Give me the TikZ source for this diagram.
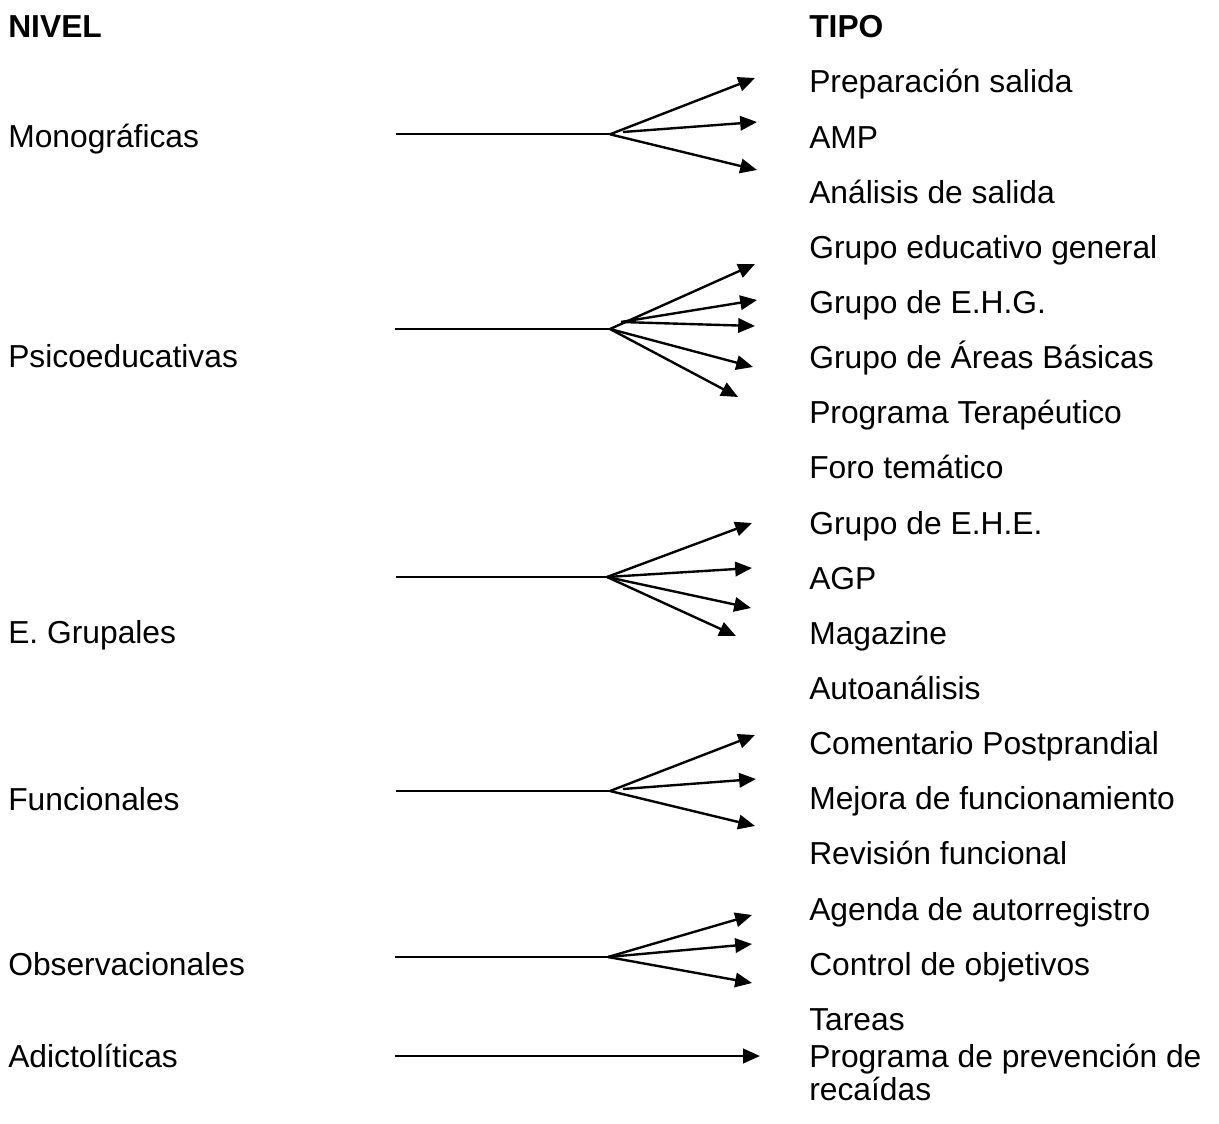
\documentclass[tikz,border=0pt]{standalone}
\usepackage{fontspec}
\setmainfont{Liberation Sans}
\usetikzlibrary{arrows.meta}

\begin{document}
\begin{tikzpicture}[
  x=0.025cm, y=-0.025cm,
  every node/.style={font=\fontsize{22.6}{27}\selectfont, inner sep=0pt, anchor=base west},
  link/.style={draw, line width=1.7pt},
  branch/.style={link, -{Triangle[length=0.42cm,width=0.36cm]}}
]
\useasboundingbox (0,0) rectangle (1219,1124);

% left column
\node[font=\fontsize{22.6}{27}\selectfont\bfseries] (nivel) at (8,37.7) {NIVEL};
\node (mono)  at (8,147.7) {Monográficas};
\node (psico) at (8,367.7) {Psicoeducativas};
\node (grup)  at (8,643.3) {E. Grupales};
\node (func)  at (8,810.7) {Funcionales};
\node (obs)   at (8,975.7) {Observacionales};
\node (adic)  at (8,1067)  {Adictolíticas};

% right column
\node[font=\fontsize{22.6}{27}\selectfont\bfseries] (tipo) at (809,37.7) {TIPO};
\foreach \txt [count=\k from 1] in {Preparación salida, AMP, Análisis de salida,
    Grupo educativo general, Grupo de E.H.G., Grupo de Áreas Básicas,
    Programa Terapéutico, Foro temático, Grupo de E.H.E., AGP, Magazine,
    Autoanálisis, Comentario Postprandial, Mejora de funcionamiento,
    Revisión funcional, Agenda de autorregistro, Control de objetivos, Tareas}
  \node (t\k) at (809,{37.7+55.15*\k}) {\txt};
\node (prev)  at (809,1067) {Programa de prevención de};
\node (prev2) at (809,1100) {recaídas};

% Monograficas
\coordinate (m0) at (396,134.3);
\coordinate (m)  at (610,134.3);
\coordinate (mb) at (623,132);
\coordinate (m1) at (755,78);
\coordinate (m2) at (757,122);
\coordinate (m3) at (757,170);
\draw[link] (m0) -- (m);
\draw[branch] (m) -- (m1);
\draw[branch] (mb) -- (m2);
\draw[branch] (m) -- (m3);

% Psicoeducativas
\coordinate (p0) at (395,329);
\coordinate (p)  at (610,329);
\coordinate (pb) at (621,322);
\coordinate (p1) at (755,264);
\coordinate (p2) at (757,300);
\coordinate (p3) at (755,326);
\coordinate (p4) at (753,367);
\coordinate (p5) at (738,397);
\draw[link] (p0) -- (p);
\draw[branch] (p) -- (p1);
\draw[branch] (pb) -- (p2);
\draw[branch] (pb) -- (p3);
\draw[branch] (p) -- (p4);
\draw[branch] (p) -- (p5);

% E. Grupales
\coordinate (g0) at (396,577);
\coordinate (g)  at (607,577);
\coordinate (g1) at (752,523);
\coordinate (g2) at (752,568);
\coordinate (g3) at (751,608);
\coordinate (g4) at (736,636);
\draw[link] (g0) -- (g);
\foreach \i in {1,...,4}
  \draw[branch] (g) -- (g\i);

% Funcionales
\coordinate (f0) at (396,791);
\coordinate (f)  at (610,791);
\coordinate (fb) at (623,789);
\coordinate (f1) at (755,735);
\coordinate (f2) at (756,779);
\coordinate (f3) at (755,826);
\draw[link] (f0) -- (f);
\draw[branch] (f) -- (f1);
\draw[branch] (fb) -- (f2);
\draw[branch] (f) -- (f3);

% Observacionales
\coordinate (o0) at (395,957);
\coordinate (o)  at (608,957);
\coordinate (o1) at (752,915);
\coordinate (o2) at (752,944);
\coordinate (o3) at (752,983);
\draw[link] (o0) -- (o);
\foreach \i in {1,2,3}
  \draw[branch] (o) -- (o\i);

% Adictoliticas
\coordinate (a0) at (395,1056);
\coordinate (a1) at (760,1056);
\draw[branch] (a0) -- (a1);
\end{tikzpicture}
\end{document}
